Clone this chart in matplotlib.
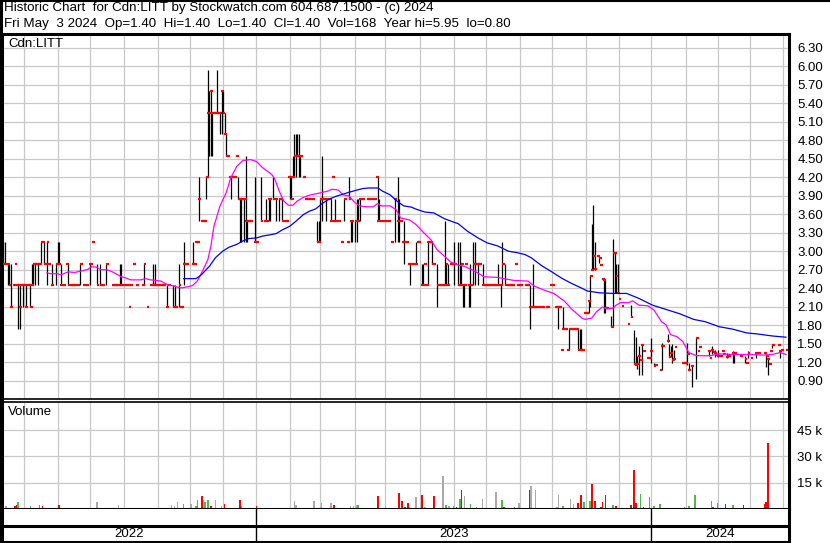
import matplotlib
matplotlib.use("Agg")
import matplotlib.pyplot as plt
from matplotlib.lines import Line2D
import pandas as pd

plt.rcParams['font.family'] = ['Liberation Sans', 'DejaVu Sans']

# trading days shown on the chart
dates = pd.bdate_range('2022-05-12', periods=517)

# price bars: (day index, high, low, close)
bars_2022 = [
    (0, 3.15, 2.80, 2.80), (1, 3.15, 2.80, 2.80), (3, 2.80, 2.45, 2.80), (4, 2.80, 2.45, 2.45),
    (5, 2.80, 2.10, 2.10), (10, 2.45, 1.75, 2.45), (11, 2.45, 1.75, 2.10), (13, 2.45, 2.10, 2.45),
    (15, 2.45, 2.10, 2.10), (18, 2.45, 2.10, 2.10), (19, 2.80, 2.45, 2.45), (20, 2.80, 2.45, 2.80),
    (21, 2.80, 2.45, 2.80), (23, 2.80, 2.45, 2.80), (25, 3.15, 2.80, 3.15), (27, 3.15, 2.80, 2.80),
    (29, 3.15, 2.45, 3.15), (32, 2.80, 2.45, 2.45), (35, 2.80, 2.45, 2.80), (36, 3.15, 2.80, 2.80),
    (37, 3.15, 2.80, 2.80), (38, 2.80, 2.45, 2.45), (43, 2.80, 2.45, 2.45), (51, 2.80, 2.45, 2.80),
    (57, 2.80, 2.45, 2.80), (62, 2.80, 2.45, 2.45), (64, 2.80, 2.45, 2.45), (68, 2.80, 2.45, 2.80),
    (77, 2.80, 2.45, 2.45), (78, 2.80, 2.45, 2.45), (93, 2.80, 2.45, 2.80), (99, 2.80, 2.45, 2.45),
    (100, 2.80, 2.45, 2.45), (108, 2.45, 2.10, 2.10), (112, 2.45, 2.10, 2.10), (113, 2.45, 2.10, 2.10),
    (116, 2.80, 2.10, 2.45), (119, 3.15, 2.45, 2.80), (125, 3.15, 2.80, 2.80), (129, 4.20, 3.50, 3.85),
    (134, 4.20, 3.85, 4.20), (135, 5.95, 4.20, 5.25), (136, 5.60, 4.55, 5.25), (137, 5.60, 4.55, 5.60),
    (138, 5.25, 4.55, 5.25), (141, 5.95, 5.25, 5.25), (143, 5.25, 4.90, 5.25), (144, 5.60, 4.90, 5.60),
    (145, 5.60, 5.25, 5.25), (146, 5.25, 4.90, 4.90), (147, 4.90, 4.55, 4.55), (150, 4.20, 3.85, 4.20),
    (155, 4.20, 3.85, 3.85), (156, 3.85, 3.15, 3.85), (157, 3.85, 3.15, 3.85), (159, 3.85, 3.15, 3.85),
    (160, 4.55, 3.15, 3.50), (161, 3.50, 3.15, 3.50), (166, 4.20, 3.15, 3.15),
]
bars_2023 = [
    (170, 4.20, 3.50, 3.50), (173, 3.85, 3.50, 3.50), (175, 3.85, 3.50, 3.85), (176, 3.85, 3.50, 3.85),
    (178, 4.20, 3.85, 3.85), (180, 3.85, 3.50, 3.85), (182, 3.85, 3.50, 3.85), (184, 3.85, 3.50, 3.50),
    (189, 4.20, 3.85, 4.20), (190, 4.20, 3.85, 3.85), (191, 4.55, 4.20, 4.20), (192, 4.90, 4.20, 4.55),
    (193, 4.90, 4.20, 4.55), (194, 4.90, 4.55, 4.55), (195, 4.90, 4.20, 4.55), (196, 4.55, 4.20, 4.55),
    (207, 3.50, 3.15, 3.15), (208, 3.50, 3.15, 3.15), (209, 3.85, 3.15, 3.85), (210, 4.55, 3.50, 3.85),
    (213, 3.85, 3.50, 3.85), (216, 3.85, 3.50, 3.50), (219, 3.85, 3.50, 3.50), (225, 3.85, 3.50, 3.85),
    (228, 4.20, 3.85, 3.85), (229, 3.50, 3.15, 3.50), (230, 3.50, 3.15, 3.50), (232, 3.50, 3.15, 3.50),
    (233, 3.85, 3.15, 3.50), (234, 3.85, 3.50, 3.50), (235, 3.85, 3.50, 3.85), (247, 4.20, 3.50, 3.50),
    (248, 3.85, 3.50, 3.50), (258, 3.85, 3.15, 3.85), (260, 4.20, 3.15, 3.50), (261, 3.85, 3.15, 3.50),
    (264, 3.50, 2.80, 3.15), (268, 2.80, 2.45, 2.80), (272, 3.15, 2.80, 2.80), (276, 2.80, 2.45, 2.45),
    (277, 2.80, 2.45, 2.45), (280, 3.15, 2.45, 3.15), (283, 3.15, 2.80, 2.80), (286, 2.80, 2.10, 2.45),
    (291, 3.50, 2.45, 2.45), (292, 2.80, 2.45, 2.80), (293, 2.80, 2.45, 2.45), (297, 3.15, 2.45, 2.80),
    (300, 3.15, 2.45, 2.45), (301, 3.15, 2.45, 2.45), (302, 2.80, 2.45, 2.80), (303, 2.45, 2.10, 2.45),
    (304, 2.45, 2.10, 2.45), (307, 2.45, 2.10, 2.45), (308, 2.80, 2.10, 2.45), (310, 3.15, 2.45, 2.80),
    (311, 3.15, 2.45, 2.80), (313, 2.80, 2.45, 2.80), (316, 2.80, 2.45, 2.45), (326, 2.80, 2.45, 2.45),
    (328, 2.45, 2.10, 2.45), (329, 3.15, 2.45, 2.80), (331, 2.80, 2.45, 2.45), (347, 2.45, 1.75, 2.10),
    (349, 2.80, 2.10, 2.10), (366, 2.10, 1.75, 2.10), (369, 2.10, 1.75, 1.75), (373, 1.75, 1.40, 1.75),
    (379, 1.75, 1.40, 1.40), (380, 1.75, 1.40, 1.40), (381, 1.75, 1.40, 1.40), (386, 2.19, 2.00, 2.19),
    (387, 2.60, 2.10, 2.60), (388, 3.45, 2.70, 2.70), (389, 3.75, 2.70, 2.92), (390, 3.15, 2.70, 2.71),
    (393, 2.92, 2.82, 2.90), (396, 2.54, 2.00, 2.54), (397, 2.54, 2.00, 2.08), (401, 1.95, 1.78, 1.78),
    (402, 3.20, 1.78, 2.98), (403, 2.98, 2.32, 2.98), (404, 2.80, 2.32, 2.60), (405, 2.80, 2.32, 2.32),
    (414, 2.13, 1.93, 1.94), (416, 1.73, 1.18, 1.18), (417, 1.62, 1.16, 1.16), (418, 1.30, 1.10, 1.18),
    (419, 1.47, 1.00, 1.31), (421, 1.50, 1.00, 1.48),
]
bars_2024 = [
    (427, 1.60, 1.19, 1.38), (429, 1.19, 1.14, 1.14), (434, 1.51, 1.08, 1.47), (438, 1.66, 1.54, 1.55),
    (439, 1.50, 1.29, 1.29), (440, 1.47, 1.29, 1.35), (441, 1.50, 1.19, 1.24), (442, 1.40, 1.24, 1.26),
    (451, 1.51, 1.16, 1.33), (452, 1.19, 1.08, 1.08), (454, 1.14, 0.81, 1.14), (457, 1.59, 0.94, 1.59),
    (465, 1.38, 1.30, 1.38), (467, 1.47, 1.34, 1.40), (469, 1.40, 1.29, 1.35), (471, 1.40, 1.29, 1.30),
    (477, 1.36, 1.27, 1.29), (481, 1.38, 1.19, 1.35), (482, 1.35, 1.19, 1.35), (489, 1.30, 1.19, 1.25),
    (491, 1.38, 1.27, 1.35), (496, 1.35, 1.27, 1.35), (503, 1.33, 1.13, 1.31), (504, 1.25, 1.00, 1.25),
    (507, 1.50, 1.43, 1.48), (512, 1.38, 1.27, 1.38),
]

# days with no range: (day index, close)
ticks_2022 = [
    (7, 2.45), (8, 2.80), (9, 2.45), (12, 2.45), (14, 2.45), (16, 2.45), (17, 2.45), (22, 2.80),
    (24, 2.80), (26, 3.15), (28, 2.80), (30, 2.80), (40, 2.45), (42, 2.80), (45, 2.45), (46, 2.45),
    (47, 2.45), (49, 2.45), (53, 2.45), (55, 2.45), (58, 2.80), (59, 3.15), (65, 2.45), (66, 2.45),
    (72, 2.45), (73, 2.45), (74, 2.45), (75, 2.45), (80, 2.45), (82, 2.45), (83, 2.10), (84, 2.45),
    (86, 2.80), (88, 2.45), (92, 2.45), (95, 2.10), (97, 2.45), (101, 2.45), (103, 2.45), (104, 2.45),
    (105, 2.45), (106, 2.45), (109, 2.45), (114, 2.10), (117, 2.10), (118, 2.10), (120, 2.80),
    (121, 2.80), (126, 2.80), (127, 3.15), (128, 3.15), (131, 3.50), (132, 3.50), (133, 3.50),
    (139, 5.25), (140, 5.25), (142, 5.25), (148, 4.55), (149, 4.20), (151, 4.20), (152, 4.20),
    (153, 4.20), (154, 4.55), (158, 3.85), (162, 3.50), (163, 3.50), (167, 3.15),
]
ticks_2023 = [
    (172, 3.50), (174, 3.50), (179, 3.85), (183, 3.85), (186, 3.50), (187, 3.50), (188, 4.20),
    (198, 4.20), (199, 3.85), (200, 3.85), (202, 3.85), (204, 3.85), (211, 3.85), (212, 3.85),
    (215, 3.85), (217, 4.20), (218, 3.50), (221, 3.50), (223, 3.15), (227, 3.15), (237, 3.85),
    (240, 3.85), (241, 3.85), (243, 3.85), (245, 3.85), (246, 4.20), (250, 3.50), (252, 3.50),
    (254, 3.50), (256, 3.15), (262, 3.50), (263, 3.15), (266, 3.15), (267, 2.80), (270, 2.80),
    (273, 3.15), (274, 3.15), (278, 2.80), (279, 2.45), (281, 3.15), (282, 3.15), (284, 2.80),
    (287, 2.45), (288, 2.45), (289, 2.45), (290, 2.45), (295, 2.80), (296, 2.80), (298, 2.80),
    (305, 2.80), (312, 2.80), (314, 2.80), (317, 2.45), (318, 2.45), (319, 2.45), (320, 2.45),
    (321, 2.45), (322, 2.45), (323, 2.45), (324, 2.45), (333, 2.45), (334, 2.45), (335, 2.45),
    (336, 2.45), (338, 2.80), (339, 2.45), (340, 2.45), (341, 2.45), (344, 2.45), (345, 2.45),
    (346, 2.45), (348, 2.10), (350, 2.10), (351, 2.10), (353, 2.10), (355, 2.10), (356, 2.10),
    (358, 2.10), (359, 2.10), (361, 2.45), (362, 2.45), (364, 2.10), (365, 2.10), (367, 2.10),
    (368, 1.40), (370, 1.75), (371, 1.75), (372, 1.40), (374, 1.75), (375, 1.75), (376, 1.75),
    (377, 1.75), (378, 1.75), (382, 1.40), (383, 2.00), (384, 2.00), (385, 2.00), (392, 2.92),
    (394, 2.78), (395, 2.56), (398, 2.08), (406, 2.23), (408, 2.12), (412, 1.82), (420, 1.24),
    (422, 1.38), (425, 1.28), (426, 1.28),
]
ticks_2024 = [
    (430, 1.16), (433, 1.08), (435, 1.47), (443, 1.45), (448, 1.19), (449, 1.19), (450, 1.19),
    (458, 1.39), (459, 1.45), (466, 1.28), (468, 1.37), (470, 1.32), (472, 1.30), (473, 1.30),
    (474, 1.39), (475, 1.34), (478, 1.30), (486, 1.30), (490, 1.19), (493, 1.28), (498, 1.35),
    (502, 1.35), (505, 1.18), (506, 1.39), (511, 1.49), (513, 1.41), (516, 1.40),
]

# moving averages
ma_short_days = [29, 31, 36, 38, 40, 43, 47, 51, 56, 58, 61, 64, 69, 72, 75, 78, 81, 84, 91, 94,
                 97, 101, 104, 107, 110, 113, 115, 118, 122, 125, 128, 131, 135, 137, 139, 143, 147, 150, 154, 158,
                 163, 167, 171, 177, 179, 182, 185, 188, 191, 194, 198, 203, 209, 214, 217, 221, 224, 228, 232, 235,
                 239, 244, 247, 249, 255, 259, 262, 268, 272, 277, 282, 286, 291, 295, 300, 304, 311, 317, 326, 332,
                 337, 346, 350, 357, 363, 370, 375, 382, 384, 388, 391, 395, 398, 402, 404, 407, 412, 415, 419, 425,
                 429, 434, 437, 440, 444, 448, 452, 457, 466, 472, 481, 490, 501, 507, 512, 516]
ma_short = [2.655, 2.64, 2.64, 2.62, 2.64, 2.67, 2.66, 2.68, 2.71, 2.75, 2.75, 2.71, 2.70, 2.67, 2.63, 2.59, 2.57, 2.54, 2.54, 2.56,
            2.54, 2.53, 2.52, 2.48, 2.45, 2.44, 2.42, 2.41, 2.43, 2.45, 2.52, 2.66, 2.87, 3.09, 3.41, 3.74, 3.95, 4.19, 4.38, 4.475,
            4.49, 4.46, 4.36, 4.25, 4.18, 3.98, 3.82, 3.75, 3.75, 3.82, 3.88, 3.92, 3.95, 3.98, 4.01, 3.995, 3.92, 3.90, 3.79, 3.74,
            3.725, 3.725, 3.78, 3.74, 3.74, 3.68, 3.545, 3.51, 3.44, 3.31, 3.19, 3.03, 2.92, 2.83, 2.78, 2.76, 2.68, 2.59, 2.58, 2.55,
            2.53, 2.52, 2.44, 2.37, 2.32, 2.195, 2.06, 1.91, 1.90, 1.92, 2.02, 2.10, 2.07, 2.08, 2.13, 2.17, 2.17, 2.20, 2.13, 2.12,
            2.05, 1.86, 1.81, 1.65, 1.62, 1.54, 1.36, 1.31, 1.31, 1.34, 1.33, 1.33, 1.32, 1.33, 1.36, 1.33]
ma_long_days = [119, 127, 129, 131, 136, 140, 145, 149, 154, 158, 162, 167, 171, 176, 180, 184, 189, 193, 198, 202,
                206, 211, 215, 220, 224, 228, 233, 237, 241, 247, 250, 255, 260, 264, 269, 273, 278, 284, 291, 300,
                306, 313, 319, 326, 333, 339, 344, 348, 355, 361, 368, 374, 381, 385, 393, 402, 411, 419, 428, 437,
                446, 455, 463, 472, 481, 490, 498, 507, 516]
ma_long = [2.56, 2.56, 2.59, 2.63, 2.76, 2.90, 3.01, 3.07, 3.115, 3.17, 3.21, 3.22, 3.25, 3.27, 3.29, 3.35, 3.41, 3.49, 3.60, 3.655,
           3.69, 3.79, 3.85, 3.90, 3.93, 3.96, 3.995, 4.02, 4.03, 4.03, 3.98, 3.92, 3.81, 3.74, 3.72, 3.68, 3.64, 3.625, 3.53, 3.45,
           3.33, 3.22, 3.14, 3.09, 3.005, 2.98, 2.95, 2.90, 2.77, 2.68, 2.57, 2.49, 2.41, 2.36, 2.33, 2.32, 2.32, 2.24, 2.13, 2.06,
           1.99, 1.90, 1.86, 1.78, 1.74, 1.68, 1.66, 1.63, 1.61]

# volume in thousands: (day index, volume)
vol_down = [(3, 0.4), (4, 0.4), (8, 1.5), (9, 2.1), (15, 0.4), (17, 0.4), (26, 1.5), (32, 0.4), (37, 2.1),
            (39, 0.4), (42, 0.4), (52, 0.4), (67, 0.4), (88, 0.4), (106, 0.4), (131, 7.2), (137, 1.9), (138, 0.8),
            (146, 2.7), (150, 0.4), (156, 4.9), (159, 0.4), (161, 0.4), (167, 1.5), (195, 0.4), (198, 0.4),
            (218, 2.1), (222, 0.4), (247, 7.2), (255, 0.4), (261, 8.9), (263, 4.4), (265, 1.3), (267, 3.6),
            (276, 8.2), (284, 7.6), (299, 1.0), (302, 11.0), (314, 0.6), (330, 1.0), (347, 11.0), (363, 0.6),
            (379, 3.2), (381, 8.2), (388, 14.2), (390, 4.6), (394, 1.3), (395, 4.2), (397, 8.2), (404, 1.9),
            (407, 0.6), (414, 2.5), (416, 22.0), (417, 3.2), (422, 1.3), (438, 0.8), (448, 0.6), (468, 1.3),
            (476, 2.7), (488, 2.5), (502, 3.0), (503, 4.2), (504, 37.5), (516, 0.4)]
vol_up = [(10, 3.8), (18, 1.5), (24, 2.1), (34, 0.4), (57, 0.4), (60, 0.4), (68, 0.4), (92, 0.8), (112, 0.4),
          (119, 2.7), (127, 1.5), (128, 4.9), (133, 3.8), (135, 4.9), (157, 1.5), (179, 0.8), (207, 0.8),
          (225, 0.8), (227, 0.8), (234, 2.1), (273, 0.6), (292, 2.5), (297, 1.9), (301, 5.5), (308, 2.9),
          (312, 1.3), (329, 5.3), (337, 1.3), (369, 1.9), (383, 4.2), (387, 4.8), (402, 2.5), (420, 8.8),
          (426, 7.0), (429, 1.9), (433, 3.0), (449, 1.3), (452, 1.9), (456, 8.2), (467, 4.8), (471, 3.6),
          (481, 2.5), (496, 0.8), (506, 0.4), (512, 0.8)]
vol_flat = [(1, 0.4), (2, 1.5), (20, 0.4), (27, 0.8), (45, 0.4), (48, 0.4), (62, 3.8), (70, 0.4), (76, 2.1),
            (80, 0.8), (84, 0.4), (98, 0.4), (104, 0.4), (111, 2.1), (113, 1.5), (115, 3.8), (124, 2.7),
            (132, 4.9), (140, 4.9), (144, 1.5), (148, 0.8), (163, 0.4), (172, 0.4), (185, 0.4), (192, 4.4),
            (193, 2.1), (200, 0.4), (205, 4.4), (210, 3.2), (213, 0.8), (216, 3.2), (229, 1.5), (231, 1.5),
            (233, 2.1), (240, 0.4), (252, 1.5), (268, 1.0), (272, 7.0), (278, 1.3), (290, 19.0), (294, 1.9),
            (304, 7.6), (306, 0.6), (316, 5.9), (321, 0.6), (325, 9.7), (340, 3.6), (345, 0.6), (348, 13.3),
            (351, 11.0), (359, 0.8), (365, 1.3), (366, 8.2), (374, 5.9), (376, 3.0), (510, 0.8)]

price_ticks = [0.90, 1.20, 1.50, 1.80, 2.10, 2.40, 2.70, 3.00, 3.30, 3.60, 3.90, 4.20, 4.50, 4.80,
               5.10, 5.40, 5.70, 6.00, 6.30]
vol_ticks = [15, 30, 45]
header_1 = 'Historic Chart  for Cdn:LITT by Stockwatch.com 604.687.1500 - (c) 2024'
header_2 = 'Fri May  3 2024  Op=1.40  Hi=1.40  Lo=1.40  Cl=1.40  Vol=168  Year hi=5.95  lo=0.80'

W, H = 830, 543
fig = plt.figure(figsize=(W / 100, H / 100), dpi=100)


def box(x0, y0, x1, y1):
    return [x0 / W, 1 - y1 / H, (x1 - x0) / W, (y1 - y0) / H]


ax = fig.add_axes(box(2, 34, 789, 399))
axv = fig.add_axes(box(2, 402, 789, 509))
axy = fig.add_axes(box(2, 509, 789, 542))

month_starts = [i for i in range(1, len(dates)) if dates[i].month != dates[i - 1].month]
year_starts = [i for i in month_starts if dates[i].month == 1]
xmin, xmax = -0.7, 518.0
grid_c = '#c8c8c8'

for a in (ax, axv, axy):
    a.set_xlim(xmin, xmax)
    a.set_xticks([])
    for s in a.spines.values():
        s.set_color('black')

# price panel
ax.set_ylim(0.608, 6.527)
for m in month_starts:
    ax.axvline(m, color=grid_c, lw=0.9, zorder=0)
    axv.axvline(m, color=grid_c, lw=0.9, zorder=0)
for p in price_ticks:
    ax.axhline(p, color=grid_c, lw=0.9, zorder=0)

all_bars = bars_2022 + bars_2023 + bars_2024
all_ticks = ticks_2022 + ticks_2023 + ticks_2024
ax.vlines([b[0] for b in all_bars], [b[2] for b in all_bars], [b[1] for b in all_bars],
          color='black', lw=0.9, zorder=2)
close_pts = [(b[0], b[3]) for b in all_bars] + all_ticks
ax.hlines([c[1] for c in close_pts], [c[0] - 0.3 for c in close_pts], [c[0] + 1.5 for c in close_pts],
          color='#ff0000', lw=1.6, zorder=3)
ax.plot(ma_short_days, ma_short, color='#ff00ff', lw=0.9, zorder=4)
ax.plot(ma_long_days, ma_long, color='#0000ee', lw=0.9, zorder=4)

ax.yaxis.tick_right()
ax.set_yticks(price_ticks)
ax.set_yticklabels(['%.2f' % p for p in price_ticks])
ax.tick_params(axis='y', length=0, pad=6, labelsize=9.5)
ax.spines['left'].set_linewidth(2.2)
ax.spines['right'].set_linewidth(2.2)
ax.spines['top'].set_linewidth(2.2)
ax.spines['bottom'].set_linewidth(1.2)

# volume panel
axv.set_ylim(0, 61.0)
for v in vol_ticks:
    axv.axhline(v, color=grid_c, lw=0.9, zorder=0)
for data, col in ((vol_flat, '#aaaaaa'), (vol_up, '#4cbb4c'), (vol_down, '#ff0000')):
    axv.bar([d[0] for d in data], [d[1] for d in data], width=1.0, color=col, zorder=2)
axv.yaxis.tick_right()
axv.set_yticks(vol_ticks)
axv.set_yticklabels(['%d k' % v for v in vol_ticks])
axv.tick_params(axis='y', length=0, pad=6, labelsize=9.5)
axv.spines['left'].set_linewidth(2.2)
axv.spines['right'].set_linewidth(2.2)
axv.spines['top'].set_linewidth(1.2)
axv.spines['bottom'].set_linewidth(2.2)

# year strip
axy.set_ylim(0, 1)
axy.set_yticks([])
axy.axhline(0.485, color='black', lw=2.2)
for y0 in year_starts:
    axy.axvline(y0, color='black', lw=1.0)
edges = [xmin] + year_starts + [xmax]
for i in range(len(edges) - 1):
    yr = dates[max(int(edges[i]), 0)].year
    axy.text((edges[i] + edges[i + 1]) / 2, 0.24, str(yr), ha='center', va='center', fontsize=9.5)
axy.spines['left'].set_linewidth(2.2)
axy.spines['right'].set_linewidth(2.2)
axy.spines['top'].set_visible(False)
axy.spines['bottom'].set_linewidth(2.2)

# header and labels
fig.text(4 / W, 1 - 8.5 / H, header_1, fontsize=9.6, va='center', ha='left')
fig.text(4 / W, 1 - 23.5 / H, header_2, fontsize=9.6, va='center', ha='left')
fig.text(8 / W, 1 - 44 / H, 'Cdn:LITT', fontsize=9.5, va='center', ha='left')
fig.text(8 / W, 1 - 412 / H, 'Volume', fontsize=9.5, va='center', ha='left')

fig.add_artist(Line2D([0, 1], [1 - 1 / H, 1 - 1 / H], transform=fig.transFigure, color='black', lw=1.5))
fig.add_artist(Line2D([1 / W, 1 / W], [0, 1], transform=fig.transFigure, color='black', lw=2.2))

fig.savefig('out.png', dpi=100)
